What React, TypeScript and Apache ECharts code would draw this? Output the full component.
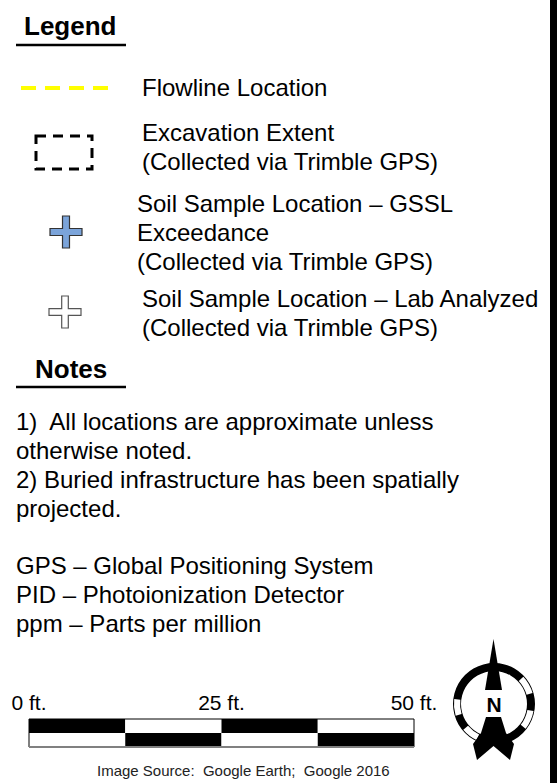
import React, { useEffect, useRef } from "react";
import * as echarts from "echarts";

const W = 557;
const H = 783;
const FONT = '"Liberation Sans", Arial, Helvetica, sans-serif';

// ---- content ----
const legendTitle = "Legend";
const flowlineLabel = ["Flowline Location"];
const excavationLabel = ["Excavation Extent", "(Collected via Trimble GPS)"];
const gsslLabel = ["Soil Sample Location – GSSL", "Exceedance", "(Collected via Trimble GPS)"];
const labLabel = ["Soil Sample Location – Lab Analyzed", "(Collected via Trimble GPS)"];
const notesTitle = "Notes";
const notesLines = [
  "1)  All locations are approximate unless",
  "otherwise noted.",
  "2) Buried infrastructure has been spatially",
  "projected.",
];
const abbreviations = [
  "GPS – Global Positioning System",
  "PID – Photoionization Detector",
  "ppm – Parts per million",
];
const scaleLabels = ["0 ft.", "25 ft.", "50 ft."];
const scaleLabelValues = [0, 25, 50];
const scaleBreaks = [0, 12.5, 25, 37.5, 50];
const scaleMax = 50;
const imageSource = "Image Source:  Google Earth;  Google 2016";
const compassWhiteArcs = [
  [47, 74],
  [100, 128],
  [206, 230],
  [253, 277],
];

function txt(text: string, x: number, y: number, size: number, opts: any = {}) {
  return {
    type: "text",
    x,
    y,
    silent: true,
    style: {
      text,
      fill: opts.fill || "#000",
      font: `${opts.bold ? "bold " : ""}${size}px ${FONT}`,
      align: opts.align || "left",
      verticalAlign: "middle",
    },
    z: 10,
  };
}

function cross(cx: number, cy: number, half: number, t: number, fill: string, stroke: string) {
  const pts = [
    [cx - t, cy - half],
    [cx + t, cy - half],
    [cx + t, cy - t],
    [cx + half, cy - t],
    [cx + half, cy + t],
    [cx + t, cy + t],
    [cx + t, cy + half],
    [cx - t, cy + half],
    [cx - t, cy + t],
    [cx - half, cy + t],
    [cx - half, cy - t],
    [cx - t, cy - t],
  ];
  return {
    type: "polygon",
    shape: { points: pts },
    style: { fill, stroke, lineWidth: 1.2 },
    z: 5,
  };
}

function buildElements() {
  const els: any[] = [];
  const LINE = 29;

  // right border bar
  els.push({ type: "rect", shape: { x: 550, y: 0, width: 7, height: H }, style: { fill: "#000" }, z: 1 });

  // Legend header
  els.push(txt(legendTitle, 24, 26, 26, { bold: true }));
  els.push({ type: "line", shape: { x1: 16, y1: 45, x2: 126, y2: 45 }, style: { stroke: "#000", lineWidth: 2.5 }, z: 5 });

  // Flowline
  els.push({
    type: "line",
    shape: { x1: 21, y1: 88, x2: 108, y2: 88 },
    style: { stroke: "#FFFF00", lineWidth: 4, lineDash: [15, 9] },
    z: 5,
  });
  flowlineLabel.forEach((t, i) => els.push(txt(t, 142, 87 + i * LINE, 24)));

  // Excavation extent
  els.push({
    type: "rect",
    shape: { x: 36, y: 136, width: 56, height: 33 },
    style: { fill: "none", stroke: "#000", lineWidth: 3, lineDash: [10, 7] },
    z: 5,
  });
  excavationLabel.forEach((t, i) => els.push(txt(t, 142, 132 + i * LINE, 24)));

  // GSSL exceedance
  els.push(cross(66, 232, 16, 3.5, "#7BA4DA", "#333"));
  gsslLabel.forEach((t, i) => els.push(txt(t, 137, 203 + i * LINE, 24)));

  // Lab analyzed
  els.push(cross(65, 312, 16, 3.3, "#fff", "#555"));
  labLabel.forEach((t, i) => els.push(txt(t, 142, 298 + i * LINE, 24)));

  // Notes
  els.push(txt(notesTitle, 35, 369, 26, { bold: true }));
  els.push({ type: "line", shape: { x1: 16, y1: 387, x2: 126, y2: 387 }, style: { stroke: "#000", lineWidth: 2.5 }, z: 5 });
  notesLines.forEach((t, i) => els.push(txt(t, 16, 421 + i * LINE, 24)));
  abbreviations.forEach((t, i) => els.push(txt(t, 16, 565 + i * LINE, 24)));

  // Scale bar
  const bx0 = 29;
  const bx1 = 414;
  const by0 = 719;
  const byM = 733;
  const by1 = 747;
  const fx = (v: number) => bx0 + (v / scaleMax) * (bx1 - bx0);
  for (let i = 0; i < scaleBreaks.length - 1; i++) {
    const x0 = fx(scaleBreaks[i]);
    const x1 = fx(scaleBreaks[i + 1]);
    const topBlack = i % 2 === 0;
    els.push({ type: "rect", shape: { x: x0, y: by0, width: x1 - x0, height: byM - by0 }, style: { fill: topBlack ? "#000" : "#fff" }, z: 4 });
    els.push({ type: "rect", shape: { x: x0, y: byM, width: x1 - x0, height: by1 - byM }, style: { fill: topBlack ? "#fff" : "#000" }, z: 4 });
  }
  els.push({ type: "rect", shape: { x: bx0, y: by0, width: bx1 - bx0, height: by1 - by0 }, style: { fill: "none", stroke: "#000", lineWidth: 1 }, z: 5 });
  els.push({ type: "line", shape: { x1: bx0, y1: by1, x2: bx1, y2: by1 }, style: { stroke: "#808080", lineWidth: 2 }, z: 6 });
  scaleLabels.forEach((t, i) => els.push(txt(t, fx(scaleLabelValues[i]), 702, 21, { align: "center" })));
  els.push(txt(imageSource, 97, 770, 15, { fill: "#222" }));

  // Compass
  const cx = 494;
  const cy = 704;
  els.push({ type: "ring", shape: { cx, cy, r: 41, r0: 33 }, style: { fill: "#000" }, z: 5 });
  const rad = (b: number) => ((b - 90) * Math.PI) / 180;
  compassWhiteArcs.forEach(([a, b]) =>
    els.push({
      type: "sector",
      shape: { cx, cy, r: 40.1, r0: 33.9, startAngle: rad(a), endAngle: rad(b), clockwise: true },
      style: { fill: "#fff" },
      z: 6,
    })
  );
  els.push({
    type: "polygon",
    shape: { points: [[493.5, 639], [502, 690], [485, 690]] },
    style: { fill: "#000" },
    z: 7,
  });
  els.push({
    type: "polygon",
    shape: {
      points: [
        [486, 717],
        [501, 717],
        [506, 733],
        [514, 744],
        [510, 760],
        [493.5, 746],
        [477, 760],
        [473, 744],
        [481, 733],
      ],
    },
    style: { fill: "#000" },
    z: 7,
  });
  els.push(txt("N", cx, cy, 21, { bold: true, align: "center" }));
  return els;
}

export default function App() {
  const ref = useRef<HTMLDivElement>(null);
  useEffect(() => {
    if (!ref.current) return;
    const chart = echarts.init(ref.current, null, { renderer: "svg", width: W, height: H });
    chart.setOption({
      animation: false,
      backgroundColor: "#fff",
      graphic: { elements: buildElements() },
    });
    return () => chart.dispose();
  }, []);
  return (
    <div
      ref={ref}
      style={{ position: "absolute", left: 0, top: 0, width: W, height: H, background: "#fff" }}
    />
  );
}
